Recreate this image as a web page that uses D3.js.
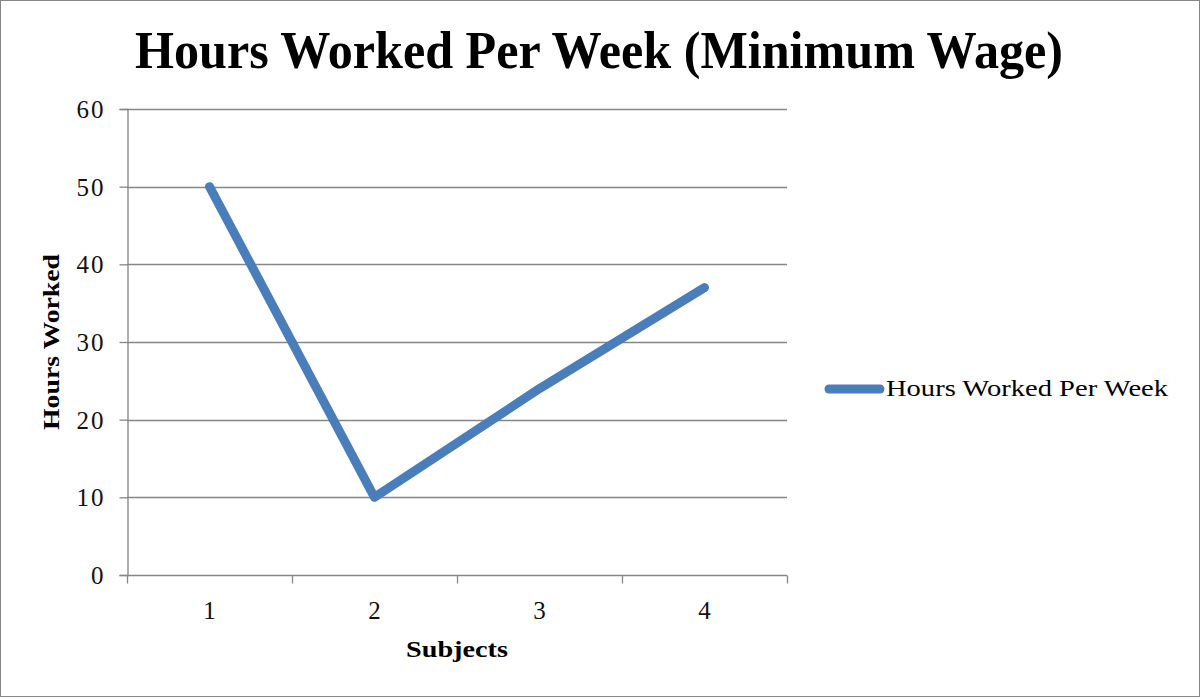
<!DOCTYPE html>
<html><head><meta charset="utf-8">
<script src="https://cdn.jsdelivr.net/npm/d3@7"></script>
<style>body{margin:0;background:#fff}svg{display:block}</style>
</head><body>
<svg id="c" width="1201" height="698"></svg>
<script>
const categories = ["1", "2", "3", "4"];
const seriesName = "Hours Worked Per Week";
const values = [50, 10, 24, 37];
const yTicks = [0, 10, 20, 30, 40, 50, 60];
const titleText = "Hours Worked Per Week (Minimum Wage)";
const xTitle = "Subjects";
const yTitle = "Hours Worked";

const svg = d3.select("#c");
const font = "'Liberation Serif', serif";
const grey = "#868686";
const blue = "#4a7ebb";
const m = {left:127, right:787, top:109, bottom:575};

svg.append("rect").attr("x",0.5).attr("y",0.5).attr("width",1199).attr("height",696)
  .attr("fill","#fff").attr("stroke",grey).attr("stroke-width",1);

const x = d3.scaleBand().domain(categories).range([m.left, m.right]).padding(0);
const y = d3.scaleLinear().domain([0, 60]).range([m.bottom, m.top]);

// gridlines
svg.append("g").selectAll("line").data(yTicks.filter(d=>d>0)).join("line")
  .attr("x1", m.left).attr("x2", m.right)
  .attr("y1", d=>Math.round(y(d))+0.5).attr("y2", d=>Math.round(y(d))+0.5)
  .attr("stroke", grey).attr("stroke-width",1.3);

// y axis
const yAxis = svg.append("g").attr("transform", `translate(${m.left+0.5},0)`)
  .call(d3.axisLeft(y).tickValues(yTicks).tickSize(8).tickPadding(14).tickFormat(d3.format("d")));
yAxis.attr("font-size", null).attr("font-family", null);
yAxis.selectAll("path,line").attr("stroke", grey).attr("stroke-width",1.3);
yAxis.selectAll("text").style("font-family", font).style("font-size", "25px").style("letter-spacing","2px")
  .attr("fill","#111").attr("dy","0.34em");

// x axis
const xAxis = svg.append("g").attr("transform", `translate(0,${Math.round(y(0))+0.5})`)
  .call(d3.axisBottom(x).tickSize(0).tickPadding(0));
xAxis.attr("font-size", null).attr("font-family", null);
xAxis.select("path").remove();
xAxis.append("line").attr("x1", m.left).attr("x2", m.right).attr("stroke", grey).attr("stroke-width",1.3);
const bounds = categories.map(c=>x(c)).concat([x(categories[categories.length-1])+x.bandwidth()]);
xAxis.selectAll(".bt").data(bounds).join("line").attr("class","bt")
  .attr("x1", d=>d+0.5).attr("x2", d=>d+0.5).attr("y1",0).attr("y2",8)
  .attr("stroke", grey).attr("stroke-width",1.3);
xAxis.selectAll(".tick text").style("font-family", font).style("font-size", "25px").attr("fill","#111")
  .attr("dy", null).attr("y", 43);

// line
const line = d3.line().x((d,i)=>x(categories[i])+x.bandwidth()/2).y(d=>y(d));
svg.append("path").datum(values).attr("d", line).attr("fill","none")
  .attr("stroke", blue).attr("stroke-width", 9).attr("stroke-linecap","round").attr("stroke-linejoin","round");

// titles
svg.append("text").attr("x", 599).attr("y", 68).attr("text-anchor","middle")
  .style("font-family", font).attr("font-weight","bold").style("font-size", "53px")
  .attr("textLength", 928).attr("lengthAdjust","spacingAndGlyphs").text(titleText);
svg.append("text").attr("x", 457).attr("y", 657).attr("text-anchor","middle")
  .style("font-family", font).attr("font-weight","bold").style("font-size", "23px")
  .attr("textLength", 102).attr("lengthAdjust","spacingAndGlyphs").text(xTitle);
svg.append("text").attr("transform","translate(59,342) rotate(-90)").attr("text-anchor","middle")
  .style("font-family", font).attr("font-weight","bold").style("font-size", "24px")
  .attr("textLength", 176).attr("lengthAdjust","spacingAndGlyphs").text(yTitle);

// legend
const lg = svg.append("g");
lg.append("line").attr("x1", 829).attr("x2", 880).attr("y1", 389).attr("y2", 389)
  .attr("stroke", blue).attr("stroke-width", 9).attr("stroke-linecap","round");
lg.append("text").attr("x", 886).attr("y", 396).style("font-family", font).style("font-size", "24px")
  .attr("textLength", 282).attr("lengthAdjust","spacingAndGlyphs").text(seriesName);
</script>
</body></html>
